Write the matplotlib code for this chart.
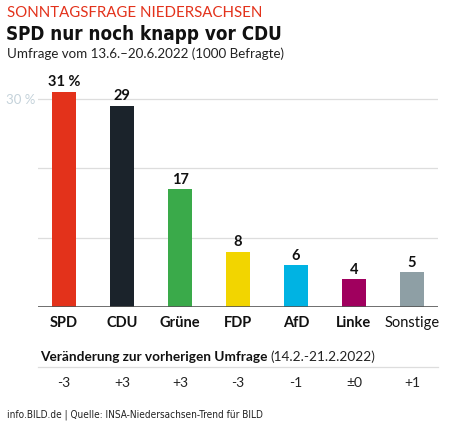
import matplotlib
matplotlib.use("Agg")
import matplotlib.pyplot as plt

parties = ["SPD", "CDU", "Grüne", "FDP", "AfD", "Linke", "Sonstige"]
values = [31, 29, 17, 8, 6, 4, 5]
value_labels = ["31 %", "29", "17", "8", "6", "4", "5"]
changes = ["-3", "+3", "+3", "-3", "-1", "±0", "+1"]
colors = ["#e3321b", "#1b232b", "#3aaa4a", "#f2d500", "#00b3e3", "#a0005e", "#8e9fa5"]
grid_ticks = [10, 20, 30]

plt.rcParams["font.family"] = ["Lato", "DejaVu Sans"]

W, H = 474, 427
fig = plt.figure(figsize=(W / 100, H / 100), dpi=100)

def fx(px):
    return px / W

def fy(py):
    return 1 - py / H

ax = fig.add_axes([fx(38), fy(308), fx(400), fy(86) - fy(308)])
x = list(range(len(parties)))
ax.bar(x, values, width=0.4, color=colors, zorder=3)
ax.set_xlim(-0.45, 6.45)
ax.set_ylim(0, 32)
for t in grid_ticks:
    ax.axhline(t, color="#dddddd", lw=0.9, zorder=1)
ax.axhline(0, color="#555555", lw=1.2, zorder=4)
for s in ax.spines.values():
    s.set_visible(False)
ax.set_xticks([])
ax.set_yticks([])
ax.text(-0.5, 30, "30 %", ha="right", va="center", fontsize=9.5, color="#c4d2da")

for xi, v, lab in zip(x, values, value_labels):
    ax.text(xi, v + 0.5, lab, ha="center", va="bottom", fontsize=10.5,
            fontweight="bold", color="#111111")

for xi, p, c in zip(x, parties, changes):
    w = "normal" if p == "Sonstige" else "bold"
    ax.text(xi, -2.2, p, ha="center", va="center", fontsize=10.5,
            fontweight=w, color="#111111")
    fig.text(fx(64 + 58 * xi), fy(383), c, ha="center", va="center",
             fontsize=10, color="#222222")

# header texts
fig.text(fx(7), fy(13), "SONNTAGSFRAGE NIEDERSACHSEN", fontsize=10.8,
         color="#e3321b", va="center", ha="left")
fig.text(fx(6), fy(35), "SPD nur noch knapp vor CDU", fontsize=13.5,
         fontweight="bold", family="DejaVu Sans", fontstretch="condensed",
         color="#111111", va="center", ha="left")
fig.text(fx(7), fy(54), "Umfrage vom 13.6.–20.6.2022 (1000 Befragte)",
         fontsize=9.6, color="#222222", va="center", ha="left")

# change header
t1 = fig.text(fx(40), fy(357), "Veränderung zur vorherigen Umfrage",
              fontsize=9.8, fontweight="bold", color="#111111",
              va="center", ha="left")
fig.canvas.draw()
bb = t1.get_window_extent()
fig.text(bb.x1 / fig.dpi / fig.get_figwidth() + fx(3), fy(357),
         "(14.2.-21.2.2022)", fontsize=9.8, color="#222222",
         va="center", ha="left")
fig.add_artist(plt.Line2D([fx(38), fx(438)], [fy(368), fy(368)],
                          color="#dddddd", lw=0.9))

fig.text(fx(7), fy(415), "info.BILD.de | Quelle: INSA-Niedersachsen-Trend für BILD",
         fontsize=7.2, family="DejaVu Sans", fontstretch="condensed",
         color="#222222", va="center", ha="left")

fig.savefig("out.png", dpi=100)
